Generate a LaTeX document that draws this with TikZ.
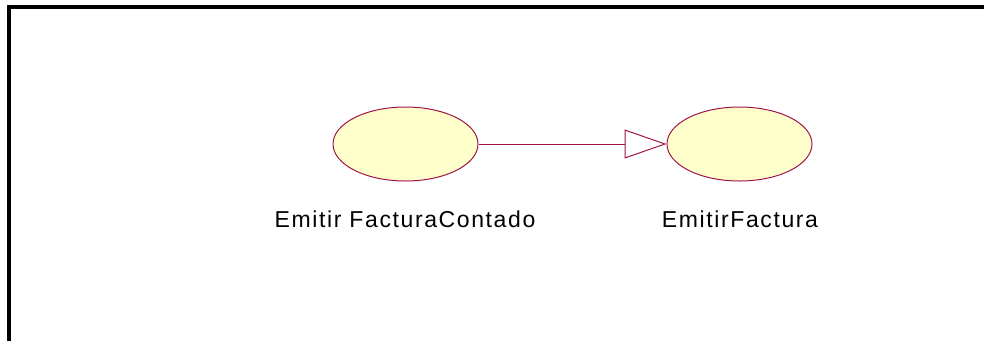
\documentclass[tikz,border=0pt]{standalone}
\usepackage{fontspec}
\setmainfont{Liberation Sans}
\usetikzlibrary{shapes.geometric,arrows.meta,positioning}
\definecolor{ucline}{RGB}{160,20,74}
\definecolor{ucfill}{RGB}{255,255,204}
\tikzset{
  usecase/.style={ellipse, draw=ucline, fill=ucfill, line width=1pt,
    minimum width=145pt, minimum height=74pt, inner sep=0pt},
  uclabel/.style={anchor=base, font=\addfontfeature{LetterSpace=7}\fontsize{23}{27}\selectfont},
  generalize/.style={draw=ucline, line width=1pt,
    -{Triangle[open, length=42pt, width=29pt, fill=white]}}
}
\begin{document}
\begin{tikzpicture}[x=1pt, y=-1pt]
            \useasboundingbox (0,0) rectangle (984,341);
            % frame
            \draw[line width=4pt] (9,341) -- (9,7) -- (984,7);

            % use cases
            \node[usecase] (contado) at (405.5,144) {};
            \node[usecase] (factura) at (739.5,144) {};
            \node[uclabel] (contadoLbl) at (405,227.5) {Emitir FacturaContado};
            \node[uclabel] (facturaLbl) at (740,227.5) {EmitirFactura};

            % generalization
            \draw[generalize] (contado) -- (factura);
\end{tikzpicture}
\end{document}
